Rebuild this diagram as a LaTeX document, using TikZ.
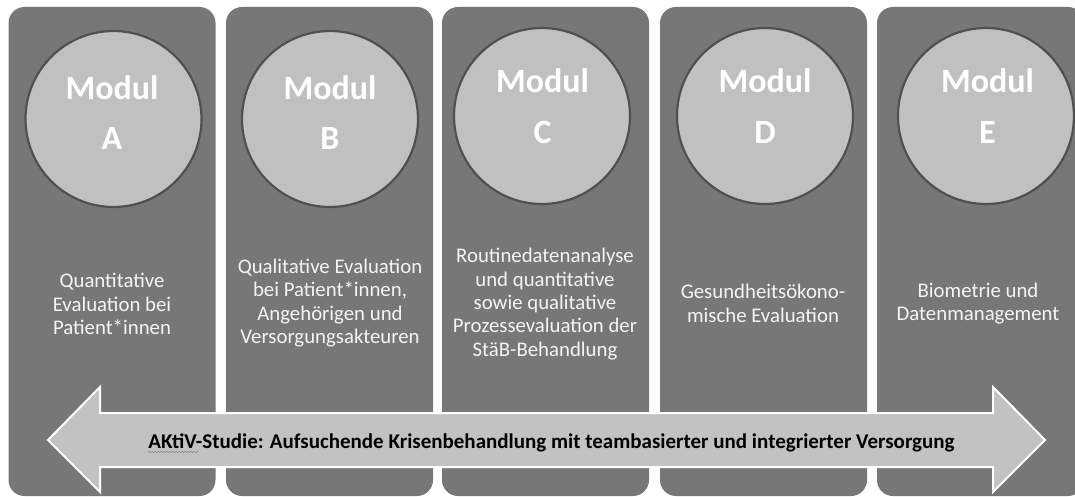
\documentclass[tikz,border=0pt]{standalone}
\usepackage{fontspec}
\setmainfont{Carlito}
\usetikzlibrary{decorations.pathmorphing}
\definecolor{colfill}{HTML}{777777}
\definecolor{circfill}{HTML}{C0C0C0}
\definecolor{circline}{HTML}{505050}
\definecolor{arrowfill}{HTML}{C2C2C2}
\definecolor{bodytext}{HTML}{F4F4F4}
\begin{document}
\begin{tikzpicture}[x=1pt,y=-1pt,
  column/.style={fill=colfill, rounded corners=16pt, inner sep=0pt,
    minimum width=207pt, minimum height=489pt},
  modcircle/.style={circle, fill=circfill, draw=circline, line width=2.2pt,
    minimum size=176pt, inner sep=0pt},
  modtitle/.style={text=white, anchor=base, inner sep=0pt,
    font=\fontsize{34}{34}\selectfont\bfseries},
  modtext/.style={text=bodytext, align=center, inner sep=0pt,
    font=\fontsize{20.8}{23.3}\selectfont},
  bigarrow/.style={fill=arrowfill, draw=white, line width=2pt, line join=miter},
  arrowtext/.style={text=black, inner sep=0pt, anchor=base,
    font=\fontsize{21}{21}\selectfont\bfseries}
]
\useasboundingbox (0,0) rectangle (1075,497);
\clip (0,0) rectangle (1075,497);

% five module columns
\node[column] (colA) at (112,251.5) {};
\node[column] (colB) at (329.5,251.5) {};
\node[column] (colC) at (545.5,251.5) {};
\node[column] (colD) at (763.5,251.5) {};
\node[column] (colE) at (980.5,251.5) {};

% module circles
\node[modcircle] (circA) at (113.5,119) {};
\node[modcircle] (circB) at (330,119) {};
\node[modcircle] (circC) at (542,116) {};
\node[modcircle] (circD) at (765,116) {};
\node[modcircle] (circE) at (986,116) {};

% circle titles
\node[modtitle] (titA) at (112,100) {Modul};
\node[modtitle] (letA) at (112,150) {A};
\node[modtitle] (titB) at (330,100) {Modul};
\node[modtitle] (letB) at (330,150) {B};
\node[modtitle] (titC) at (542.5,93) {Modul};
\node[modtitle] (letC) at (542.5,144) {C};
\node[modtitle] (titD) at (765,93) {Modul};
\node[modtitle] (letD) at (765,144) {D};
\node[modtitle] (titE) at (987.5,93) {Modul};
\node[modtitle] (letE) at (987.5,144) {E};

% module descriptions
\node[modtext] (txtA) at (112,304) {Quantitative\\Evaluation bei\\Patient*innen};
\node[modtext] (txtB) at (330,303) {Qualitative Evaluation\\bei Patient*innen,\\Angehörigen und\\Versorgungsakteuren};
\node[modtext] (txtC) at (545,304) {Routinedatenanalyse\\und quantitative\\sowie qualitative\\Prozessevaluation der\\StäB-Behandlung};
\node[modtext] (txtD) at (763,303.5) {Gesundheitsökono-\\mische Evaluation};
\node[modtext] (txtE) at (978,303.5) {Biometrie und\\Datenmanagement};

% double-headed study arrow
\draw[bigarrow] (48,440) -- (100,387) -- (100,413) -- (993,413) -- (993,387)
  -- (1045,440) -- (993,492) -- (993,467) -- (100,467) -- (100,492) -- cycle;
\node[arrowtext] (study) at (551.5,448) {AKtiV-Studie: Aufsuchende Krisenbehandlung mit teambasierter und integrierter Versorgung};
\draw[gray, line width=0.5pt, decorate,
  decoration={snake, amplitude=0.7pt, segment length=3pt}]
  (study.base west) ++(0,4) -- ++(50,0);
\end{tikzpicture}
\end{document}
